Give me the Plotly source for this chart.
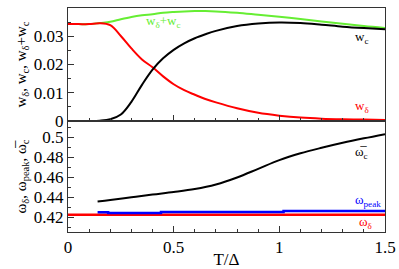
import plotly.graph_objects as go

# ---- data ----
T = [0, 0.05, 0.1, 0.15, 0.2, 0.25, 0.3, 0.35, 0.4, 0.45, 0.5, 0.55, 0.6, 0.65,
     0.7, 0.8, 0.9, 1.0, 1.1, 1.2, 1.3, 1.4, 1.5]
w_delta = [0.0343, 0.0343, 0.0343, 0.0346, 0.0339, 0.0301, 0.0257, 0.0218, 0.0190,
           0.0158, 0.0130, 0.0109, 0.0093, 0.0078, 0.0066, 0.0045, 0.0029, 0.0019,
           0.0012, 0.0008, 0.0006, 0.0005, 0.0004]
w_c = [0, 0, 0, 0.0001, 0.0006, 0.0023, 0.0068, 0.0128, 0.0182, 0.0222, 0.0252,
       0.0275, 0.0293, 0.0307, 0.0319, 0.0336, 0.0345, 0.0349, 0.0347, 0.0341,
       0.0334, 0.0329, 0.0325]
w_sum = [0.0343, 0.0343, 0.0343, 0.0347, 0.0351, 0.0360, 0.0368, 0.0374, 0.0378,
         0.0383, 0.0386, 0.0388, 0.0389, 0.0389, 0.0388, 0.0383, 0.0376, 0.0369,
         0.0361, 0.0352, 0.0344, 0.0336, 0.0329]

T_wc = [0.14, 0.2, 0.3, 0.4, 0.5, 0.6, 0.7, 0.8, 0.9, 1.0, 1.1, 1.2, 1.3, 1.4, 1.5]
omega_c_bar = [0.4357, 0.4372, 0.4400, 0.4427, 0.4452, 0.4482, 0.4528, 0.4598,
               0.4685, 0.4772, 0.4840, 0.4895, 0.4945, 0.4990, 0.5032]
T_peak = [0.14, 0.19, 0.44, 1.02, 1.5]
omega_peak = [0.4250, 0.4242, 0.4252, 0.4262, 0.4262]
T_od = [0, 1.5]
omega_delta = [0.4226, 0.4226]

x_ticks = [0, 0.5, 1, 1.5]
x_ticklabels = ["0", "0.5", "1", "1.5"]
y1_ticks = [0, 0.01, 0.02, 0.03, 0.04]
y1_ticklabels = ["0", "0.01", "0.02", "0.03", "0.04"]
y2_ticks = [0.42, 0.44, 0.46, 0.48, 0.5]
y2_ticklabels = ["0.42", "0.44", "0.46", "0.48", "0.5"]

RED = "#ff0000"
BLACK = "#000000"
GREEN = "#66ee33"
BLUE = "#0000ff"
FONT = "Times New Roman, Liberation Serif, serif"

fig = go.Figure()
fig.add_trace(go.Scatter(x=T, y=w_sum, mode="lines", line=dict(color=GREEN, width=2),
                         xaxis="x", yaxis="y", line_shape="spline"))
fig.add_trace(go.Scatter(x=T, y=w_delta, mode="lines", line=dict(color=RED, width=2),
                         xaxis="x", yaxis="y", line_shape="spline"))
fig.add_trace(go.Scatter(x=T, y=w_c, mode="lines", line=dict(color=BLACK, width=2),
                         xaxis="x", yaxis="y", line_shape="spline"))
fig.add_trace(go.Scatter(x=T_wc, y=omega_c_bar, mode="lines", line=dict(color=BLACK, width=2),
                         xaxis="x2", yaxis="y2", line_shape="spline"))
fig.add_trace(go.Scatter(x=T_od, y=omega_delta, mode="lines", line=dict(color=RED, width=2.5),
                         xaxis="x2", yaxis="y2"))
fig.add_trace(go.Scatter(x=T_peak, y=omega_peak, mode="lines", line=dict(color=BLUE, width=2.5),
                         xaxis="x2", yaxis="y2", line_shape="hv"))

axis_common = dict(showline=True, linecolor="#333333", linewidth=1, mirror=True,
                   showgrid=False, zeroline=False, ticks="inside", ticklen=6,
                   automargin=False,
                   tickcolor="#333333", tickfont=dict(family=FONT, size=17, color="black"))

fig.update_layout(
    width=399, height=269,
    margin=dict(l=68, r=14, t=8, b=37),
    paper_bgcolor="white", plot_bgcolor="white",
    showlegend=False,
    font=dict(family=FONT, color="black"),
    xaxis=dict(**axis_common, range=[0, 1.5], tickvals=x_ticks, ticktext=x_ticklabels,
               showticklabels=False, anchor="y", domain=[0, 1],
               minor=dict(dtick=0.1, tick0=0, ticklen=3, ticks="inside", tickcolor="#333333")),
    yaxis=dict(**axis_common, range=[0, 0.04], tickvals=y1_ticks, ticktext=y1_ticklabels,
               domain=[0.4955, 1], anchor="x",
               minor=dict(dtick=0.005, tick0=0, ticklen=3, ticks="inside", tickcolor="#333333"),
               title=dict(text="w<sub>δ</sub>, w<sub>c</sub>, w<sub>δ</sub>+w<sub>c</sub>",
                          font=dict(family=FONT, size=15), standoff=3)),
    xaxis2=dict(**axis_common, range=[0, 1.5], tickvals=x_ticks, ticktext=x_ticklabels,
                anchor="y2", matches="x",
                minor=dict(dtick=0.1, tick0=0, ticklen=3, ticks="inside", tickcolor="#333333"),
                title=dict(text="T/Δ", font=dict(family=FONT, size=17), standoff=2)),
    yaxis2=dict(**axis_common, range=[0.4053, 0.5163], tickvals=y2_ticks, ticktext=y2_ticklabels,
                domain=[0, 0.4955], anchor="x2",
                minor=dict(dtick=0.01, tick0=0.4, ticklen=3, ticks="inside", tickcolor="#333333"),
                title=dict(text="ω<sub>δ</sub>, ω<sub>peak</sub>, ω\u0305<sub>c</sub>",
                           font=dict(family=FONT, size=15), standoff=3)),
)

ann = [
    dict(text="w<sub>δ</sub>+w<sub>c</sub>", x=0.45, y=0.0354, xref="x", yref="y", color=GREEN),
    dict(text="w<sub>c</sub>", x=1.39, y=0.0294, xref="x", yref="y", color=BLACK),
    dict(text="w<sub>δ</sub>", x=1.39, y=0.0053, xref="x", yref="y", color=RED),
    dict(text="ω\u0305<sub>c</sub>", x=1.387, y=0.4853, xref="x2", yref="y2", color=BLACK),
    dict(text="ω<sub>peak</sub>", x=1.42, y=0.4363, xref="x2", yref="y2", color=BLUE),
    dict(text="ω<sub>δ</sub>", x=1.41, y=0.4143, xref="x2", yref="y2", color=RED),
]
for a in ann:
    fig.add_annotation(text=a["text"], x=a["x"], y=a["y"], xref=a["xref"], yref=a["yref"],
                       showarrow=False, xanchor="center", yanchor="middle",
                       font=dict(family=FONT, size=13, color=a["color"]))

fig.write_html("out.html", config={"displayModeBar": False},
               post_script="document.body.style.margin='0';document.body.style.overflow='hidden';")
